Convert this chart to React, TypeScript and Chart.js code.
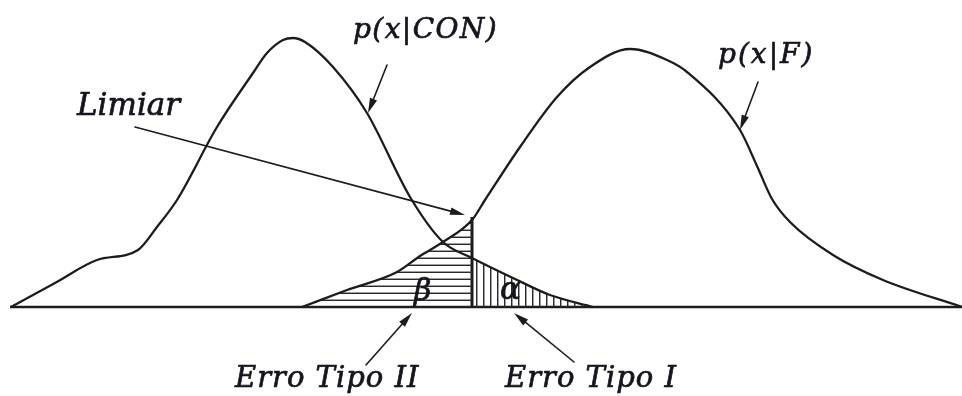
import { useEffect, useRef } from "react";
import { Chart, registerables } from "chart.js";

Chart.register(...registerables);

// Decision score (horizontal) and density height above the baseline (vertical)
const conScores = [11, 55, 97, 138, 157, 177, 217, 253, 267, 283, 293, 305, 333, 367, 410, 443, 472, 513, 550, 593];
const conDensity = [0, 24, 47, 57, 80, 107, 180, 234, 254, 267, 269, 265, 240, 194, 110, 65, 49, 29, 12, 0];
const fScores = [302, 347, 397, 420, 443, 472, 485, 520, 557, 590, 630, 667, 687, 740, 757, 772, 790, 833, 883, 962];
const fDensity = [0, 17, 35, 51, 65, 87, 107, 160, 210, 240, 258, 247, 235, 177, 141, 108, 85, 52, 27, 0];
const threshold = 472;
const thresholdHeight = 90;
const axisRange = [10, 962];

const INK = "#1c1c1c";
const TEXT = "#15151f";
const FONT = '"DejaVu Serif", "Liberation Serif", serif';

// Annotation layout, in the same units as the data
const labels = [
  { text: "Limiar", x: 77, y: 192, size: 31, spacing: 0 },
  { text: "p(x|CON)", x: 353, y: 269, size: 28, spacing: 1.4 },
  { text: "p(x|F)", x: 718, y: 244, size: 28, spacing: 2 },
  { text: "Erro Tipo II", x: 235, y: -80, size: 29, spacing: 1 },
  { text: "Erro Tipo I", x: 505, y: -80, size: 29, spacing: 1 },
  { text: "β", x: 414, y: 7, size: 30, spacing: 0 },
  { text: "α", x: 500, y: 8, size: 31, spacing: 0 },
];

const arrows = [
  { from: [135, 180], to: [465, 92] },
  { from: [387, 242], to: [368, 194] },
  { from: [758, 225], to: [740, 177] },
  { from: [366, -58], to: [412, -6] },
  { from: [574, -55], to: [514, -6] },
];

// Clear bands in the hatching so the Greek letters stay readable
const hatchGaps = [
  { x0: 412, x1: 441, y0: 3, y1: 30 },
  { x0: 499, x1: 527, y0: 3, y1: 36 },
];

function makeHatch(horizontal: boolean, step: number): CanvasPattern | string {
  const c = document.createElement("canvas");
  c.width = horizontal ? 4 : step;
  c.height = horizontal ? step : 4;
  const g = c.getContext("2d");
  if (!g) return "rgba(0,0,0,0)";
  g.fillStyle = "#2a2a2a";
  if (horizontal) {
    g.fillRect(0, step - 1, 4, 1);
    g.fillStyle = "rgba(42,42,42,0.45)";
    g.fillRect(0, step - 2, 4, 1);
  } else {
    g.fillRect(0, 0, 1, 4);
    g.fillStyle = "rgba(42,42,42,0.45)";
    g.fillRect(1, 0, 1, 4);
  }
  return g.createPattern(c, "repeat") || "rgba(0,0,0,0)";
}

const annotate = {
  id: "annotate",
  beforeDatasetsDraw(chart: any) {
    const { ctx, scales } = chart;
    const sx = scales.x;
    const sy = scales.y;
    ctx.save();
    ctx.fillStyle = "#ffffff";
    for (const g of hatchGaps) {
      const l = sx.getPixelForValue(g.x0);
      const r = sx.getPixelForValue(g.x1);
      const t = sy.getPixelForValue(g.y1);
      const b = sy.getPixelForValue(g.y0);
      ctx.fillRect(l, t, r - l, b - t);
    }
    ctx.restore();
  },
  afterDatasetsDraw(chart: any) {
    const { ctx, scales } = chart;
    const sx = scales.x;
    const sy = scales.y;
    ctx.save();
    ctx.strokeStyle = INK;
    ctx.fillStyle = INK;
    ctx.lineWidth = 1.6;
    ctx.lineCap = "round";
    for (const a of arrows) {
      const x0 = sx.getPixelForValue(a.from[0]);
      const y0 = sy.getPixelForValue(a.from[1]);
      const x1 = sx.getPixelForValue(a.to[0]);
      const y1 = sy.getPixelForValue(a.to[1]);
      const ang = Math.atan2(y1 - y0, x1 - x0);
      const len = 15;
      const half = 3.8;
      const bx = x1 - len * Math.cos(ang);
      const by = y1 - len * Math.sin(ang);
      ctx.beginPath();
      ctx.moveTo(x0, y0);
      ctx.lineTo(bx, by);
      ctx.stroke();
      ctx.beginPath();
      ctx.moveTo(x1, y1);
      ctx.lineTo(bx + half * Math.sin(ang), by - half * Math.cos(ang));
      ctx.lineTo(bx - half * Math.sin(ang), by + half * Math.cos(ang));
      ctx.closePath();
      ctx.fill();
    }
    ctx.fillStyle = TEXT;
    ctx.strokeStyle = TEXT;
    ctx.lineWidth = 0.7;
    ctx.lineJoin = "round";
    ctx.textBaseline = "alphabetic";
    ctx.textAlign = "left";
    for (const l of labels) {
      ctx.font = `italic ${l.size}px ${FONT}`;
      (ctx as any).letterSpacing = `${l.spacing}px`;
      const px = sx.getPixelForValue(l.x);
      const py = sy.getPixelForValue(l.y);
      ctx.fillText(l.text, px, py);
      ctx.strokeText(l.text, px, py);
    }
    ctx.restore();
  },
};

export default function App() {
  const ref = useRef<HTMLCanvasElement | null>(null);

  useEffect(() => {
    const canvas = ref.current;
    if (!canvas) return;
    const hHatch = makeHatch(true, 7);
    const vHatch = makeHatch(false, 7);
    const curve = {
      borderColor: INK,
      borderWidth: 2.3,
      pointRadius: 0,
      tension: 0.4,
      cubicInterpolationMode: "monotone" as const,
      fill: "origin",
      backgroundColor: "rgba(0,0,0,0)",
    };
    const chart = new Chart(canvas, {
      type: "line",
      data: {
        datasets: [
          {
            ...curve,
            label: "p(x|CON)",
            data: conScores.map((x, i) => ({ x, y: conDensity[i] })),
            segment: {
              backgroundColor: (c: any) => (c.p0.parsed.x >= threshold ? vHatch : undefined),
            },
          },
          {
            ...curve,
            label: "p(x|F)",
            data: fScores.map((x, i) => ({ x, y: fDensity[i] })),
            segment: {
              backgroundColor: (c: any) => (c.p1.parsed.x <= threshold ? hHatch : undefined),
            },
          },
          {
            label: "Limiar",
            data: [
              { x: threshold, y: 0 },
              { x: threshold, y: thresholdHeight },
            ],
            borderColor: INK,
            borderWidth: 3,
            pointRadius: 0,
            fill: false,
          },
          {
            label: "x",
            data: [
              { x: axisRange[0], y: 0 },
              { x: axisRange[1], y: 0 },
            ],
            borderColor: INK,
            borderWidth: 2.6,
            pointRadius: 0,
            fill: false,
          },
        ] as any,
      },
      options: {
        responsive: false,
        animation: false,
        events: [],
        layout: { padding: 0 },
        plugins: {
          legend: { display: false },
          tooltip: { enabled: false },
        },
        scales: {
          x: { type: "linear", display: false, min: 0, max: 962 },
          y: { type: "linear", display: false, min: -89, max: 307 },
        },
      },
      plugins: [annotate],
    });
    return () => chart.destroy();
  }, []);

  return (
    <div style={{ position: "fixed", left: 0, top: 0, width: 962, height: 396, background: "#fff" }}>
      <canvas ref={ref} width={962} height={396} />
    </div>
  );
}
